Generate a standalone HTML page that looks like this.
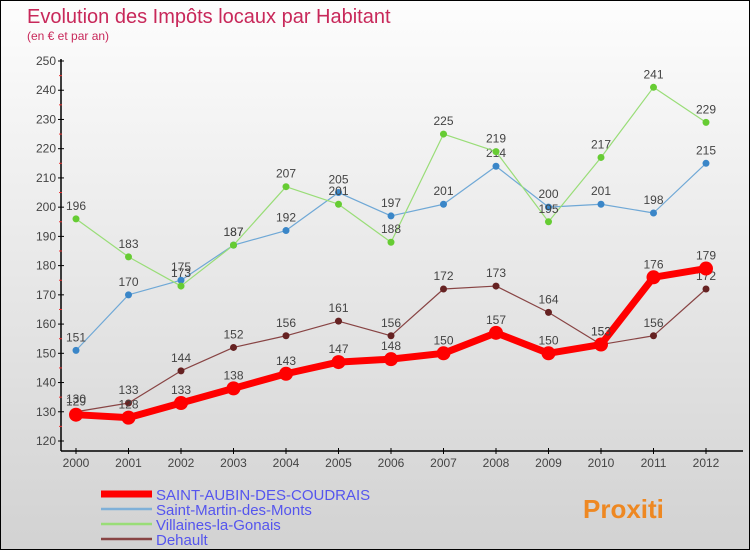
<!DOCTYPE html>
<html><head><meta charset="utf-8"><style>
body{margin:0}
#wrap{width:750px;height:550px;position:relative;box-sizing:border-box;border:1px solid #000;background:linear-gradient(#fdfdfd,#d2d2d2);font-family:"Liberation Sans",sans-serif;overflow:hidden}
svg{position:absolute;left:0;top:0}
</style></head><body>
<div id="wrap">
<svg id="s" width="750" height="550">
<text x="26" y="22" font-size="20" fill="#c8285a">Evolution des Impôts locaux par Habitant</text>
<text x="26" y="39" font-size="12" fill="#c8285a">(en € et par an)</text>
</svg>
</div>
<script>
const years=["2000","2001","2002","2003","2004","2005","2006","2007","2008","2009","2010","2011","2012"];
const yTicks=[120,130,140,150,160,170,180,190,200,210,220,230,240,250];
const saintAubin=[129,128,133,138,143,147,148,150,157,150,153,176,179];
const saintMartin=[151,170,175,187,192,205,197,201,214,200,201,198,215];
const villaines=[196,183,173,187,207,201,188,225,219,195,217,241,229];
const dehault=[130,133,144,152,156,161,156,172,173,164,153,156,172];
const ns="http://www.w3.org/2000/svg",svg=document.getElementById('s');
const X=i=>75+i*52.5, Y=v=>440-(v-120)*(380/130);
function el(t,a,p){const e=document.createElementNS(ns,t);for(const k in a)e.setAttribute(k,a[k]);(p||svg).appendChild(e);return e;}
let ax=el('line',{x1:60,y1:58,x2:60,y2:450,stroke:'#000','stroke-width':1.5});

let xa=el('line',{x1:60,y1:450,x2:742,y2:450,stroke:'#000','stroke-width':1.5});

yTicks.forEach(v=>{el('line',{x1:57,x2:63,y1:Y(v),y2:Y(v),stroke:'#000'});
const t=el('text',{x:55,y:Y(v)+4,'text-anchor':'end','font-size':12,fill:'#444'});t.textContent=v;

if(v<250)el('line',{x1:58,x2:61,y1:Y(v+5),y2:Y(v+5),stroke:'#e33'});});
years.forEach((y,i)=>{el('line',{x1:X(i),x2:X(i),y1:447,y2:453,stroke:'#000'});
const t=el('text',{x:X(i),y:466,'text-anchor':'middle','font-size':12,fill:'#444'});t.textContent=y;
});
function series(d,c,w,r,dot,name){const g=el('g',{});
el('polyline',{points:d.map((v,i)=>X(i)+','+Y(v)).join(' '),fill:'none',stroke:c,'stroke-width':w,'stroke-linejoin':'round'},g);
d.forEach((v,i)=>{const p=el('circle',{cx:X(i),cy:Y(v),r:r,fill:dot},g);
const t=el('text',{x:X(i),y:Y(v)-9,'text-anchor':'middle','font-size':12,fill:'#444'},g);t.textContent=v;});}
series(saintMartin,'#6fa8d6',1.2,3.5,'#3a86c8','saint-martin-series');
series(villaines,'#99dd77',1.2,3.5,'#66cc33','villaines-series');
series(dehault,'#884444',1.2,3.5,'#662222','dehault-series');
series(saintAubin,'#ff0000',7,7,'#ff0000','saint-aubin-series');
const leg=[['SAINT-AUBIN-DES-COUDRAIS','#ff0000',7],['Saint-Martin-des-Monts','#7fb0d8',2.5],['Villaines-la-Gonais','#99dd77',2.5],['Dehault','#884444',2.5]];
leg.forEach((l,i)=>{const g=el('g',{});
const y=493+i*15;el('line',{x1:100,x2:151,y1:y,y2:y,stroke:l[1],'stroke-width':l[2]},g);
const t=el('text',{x:155,y:y+6,'font-size':15,fill:'#5555ee'},g);t.textContent=l[0];});
const lg=el('text',{x:582,y:517,'font-size':26,'font-weight':'bold',fill:'#ee8822'});lg.textContent='Proxiti';

</script>
</body></html>
